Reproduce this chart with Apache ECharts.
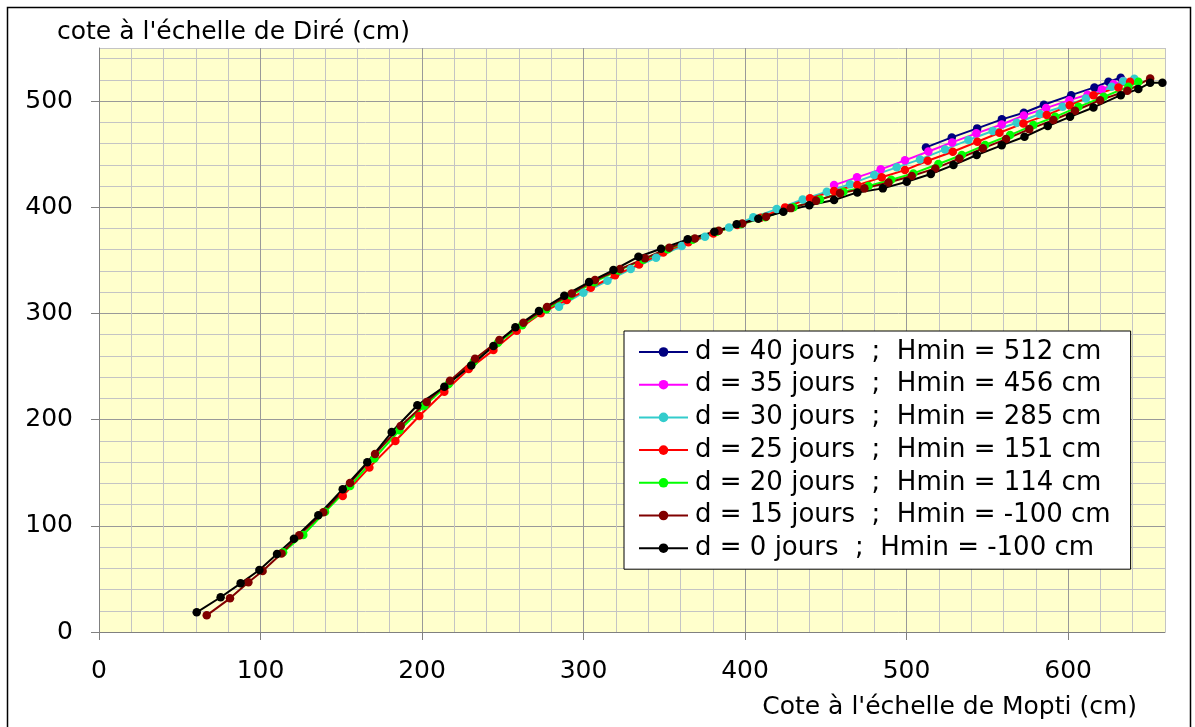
<!DOCTYPE html>
<html>
<head>
<meta charset="utf-8">
<script src="https://cdn.jsdelivr.net/npm/echarts@6/dist/echarts.min.js"></script>
<style>
  html, body { margin: 0; padding: 0; background: #ffffff; }
  #myChart { width: 1195px; height: 727px; }
</style>
</head>
<body>
<div id="myChart"></div>
<script>
// tick labels
const xTicks = [0, 100, 200, 300, 400, 500, 600];
const yTicks = [0, 100, 200, 300, 400, 500];

const seriesNames = [
  'd = 40 jours  ;  Hmin = 512 cm',
  'd = 35 jours  ;  Hmin = 456 cm',
  'd = 30 jours  ;  Hmin = 285 cm',
  'd = 25 jours  ;  Hmin = 151 cm',
  'd = 20 jours  ;  Hmin = 114 cm',
  'd = 15 jours  ;  Hmin = -100 cm',
  'd = 0 jours  ;  Hmin = -100 cm'
];
const colorList = ['#000080', '#ff00ff', '#33cccc', '#ff0000', '#00ff00', '#800000', '#000000'];

// Mopti (x) / Diré (y), cm
const mopti40 = [512, 528, 543.7, 559, 572.6, 585, 601.9, 616.3, 625, 632.6];
const dire40 = [456.4, 465.8, 474.3, 482.8, 489, 496.6, 505.6, 512.9, 518.2, 522];

const mopti35 = [455.1, 469.3, 484, 499, 513.5, 528.2, 543.2, 558.9, 572.6, 586.4, 600.8, 612, 620.9, 628.1, 634];
const dire35 = [420.9, 428.2, 435.7, 444.2, 452.5, 461.1, 469.6, 478, 486.5, 493.4, 500.9, 506, 511, 516, 519];

const mopti30 = [284.8, 299.9, 314.8, 329.2, 344.9, 360.8, 375.2, 390.1, 405.1, 419.6, 435.7, 450.6, 465, 480, 493.9, 508.3, 523.8, 538.3, 553.3, 568.2, 582.5, 596.6, 611, 627, 634.2, 641];
const dire30 = [306.3, 319.5, 330.8, 341.8, 352.4, 363.5, 372.2, 381, 390.5, 398.3, 407.4, 414.6, 421.8, 430.3, 437.6, 445.1, 454.5, 463.3, 471.8, 479.6, 487.8, 494.6, 502.5, 513.5, 518.8, 521];

const mopti25 = [150.9, 167.4, 183.5, 198.3, 213.8, 228.9, 244.2, 258.6, 273.5, 289.6, 304.5, 319.5, 334.4, 349.4, 364.9, 380.4, 395.2, 409.7, 424.8, 440.2, 455.1, 469.5, 484.6, 499, 513.1, 528.6, 543.8, 557.5, 572.3, 586.8, 601, 615.7, 631.2, 638.4];
const dire25 = [128, 155, 179.9, 203.4, 226.3, 247.6, 265.5, 283.7, 300.1, 312.6, 324.2, 335.9, 346.2, 357.5, 367, 375.4, 383.2, 390.1, 399.9, 408.4, 415.3, 420.9, 428.2, 435, 443.8, 452.3, 461.7, 470.2, 479, 486.8, 496, 505.6, 512.9, 518.2];

const mopti20 = [114, 126.5, 140, 155.5, 170.5, 186, 201.5, 216.5, 232, 247, 262, 277, 292, 306.5, 321.5, 337, 352, 367.5, 382.5, 397.5, 412.5, 430, 446.4, 460.9, 476.4, 490.5, 504.2, 519.7, 534.2, 548.6, 564.1, 578.5, 592, 606.4, 622, 637.3, 643.5];
const dire20 = [75, 91.3, 113.3, 137.5, 163.5, 190, 213, 233.5, 254.5, 272.5, 289, 304, 317, 329.5, 340.5, 350.5, 360.5, 369.5, 377, 384, 390.5, 400, 407.4, 414.6, 420, 426, 431.9, 440.7, 449.2, 458.6, 468, 477.4, 485.2, 494.6, 504, 513.5, 518.2];

const mopti15 = [66.7, 81.1, 92.5, 101.3, 113, 124, 138.9, 155.4, 170.9, 186.8, 202.9, 217.3, 232.8, 247.9, 262.8, 277.4, 292.7, 307.1, 322.6, 338, 353.1, 368.9, 383.7, 398.3, 413, 428.3, 444, 458.8, 473.9, 488.8, 503.2, 517.8, 532.7, 547.2, 561.6, 576, 590.9, 604.3, 619.8, 636.7, 650.8];
const dire15 = [15.7, 31.7, 46.8, 57.4, 74, 91, 112.7, 140.3, 167.6, 194, 216.6, 236.6, 257.3, 275, 291.2, 306, 318.9, 331.5, 341.8, 351.9, 361.9, 370.7, 377.9, 384.8, 391, 399.2, 406.1, 413.1, 417.8, 423.4, 429.4, 436.6, 446, 455.5, 464.2, 473.6, 482.1, 490.9, 500.9, 509.7, 521.3];

const mopti0 = [60.5, 75.3, 87.7, 99.3, 110.2, 120.7, 135.8, 150.9, 166.1, 181.2, 197.1, 213.8, 230.5, 244.2, 257.8, 272.4, 288.1, 303.4, 318.5, 334, 348, 364.5, 381, 394.8, 408.2, 423.7, 439.8, 455.1, 469.5, 485.3, 500.1, 515, 529, 543.4, 558.9, 573, 587.4, 601.2, 615.7, 632.6, 643.5, 650.8, 658.4];
const dire0 = [18.5, 32.7, 45.8, 58.4, 73.4, 87.9, 109.9, 134.4, 159.8, 188.3, 213.5, 231, 251.1, 269.3, 286.9, 302.3, 316.7, 329.6, 340.9, 353.4, 361, 369.8, 377, 383.9, 389.2, 395.8, 402, 406.8, 414, 417.8, 424, 431.3, 439.7, 449.2, 458.3, 466.4, 476.5, 485.2, 494, 505.6, 511.3, 517.2, 517.2];

const moptiList = [mopti40, mopti35, mopti30, mopti25, mopti20, mopti15, mopti0];
const direList = [dire40, dire35, dire30, dire25, dire20, dire15, dire0];

const font = "'DejaVu Sans', sans-serif";
const gridColors = ['#999999', '#c4c4c4', '#c4c4c4', '#c4c4c4', '#c4c4c4'];

const myChart = echarts.init(document.getElementById('myChart'));

// grid axis: every 20 cm, lines only
const gridAxis = (max) => ({
  type: 'value',
  min: 0,
  max: max,
  interval: 20,
  axisLine: { show: true, lineStyle: { color: '#808080', width: 1 } },
  axisTick: { show: false },
  axisLabel: { show: false },
  splitLine: { show: true, lineStyle: { color: gridColors, width: 1 } }
});

// label axis: ticks and labels at 100 cm
const labelAxis = (max, ticks, margin) => ({
  type: 'value',
  min: 0,
  max: max,
  interval: 100,
  axisLine: { show: false },
  axisTick: { show: true, customValues: ticks, length: 8, lineStyle: { color: '#808080' } },
  axisLabel: {
    customValues: ticks,
    margin: margin,
    fontFamily: font,
    fontSize: 25,
    color: '#000000'
  },
  splitLine: { show: false }
});

const option = {
  animation: false,
  backgroundColor: '#ffffff',
  grid: {
    left: 99,
    right: 30,
    top: 48,
    bottom: 95,
    show: true,
    backgroundColor: '#ffffcc',
    borderWidth: 0
  },
  legend: {
    orient: 'vertical',
    left: 624,
    top: 331,
    padding: [8, 20, 8, 14],
    itemGap: 6.7,
    itemWidth: 49,
    itemHeight: 12,
    backgroundColor: '#ffffff',
    borderColor: '#000000',
    borderWidth: 1,
    borderRadius: 0,
    textStyle: {
      fontFamily: font,
      fontSize: 26,
      lineHeight: 26,
      color: '#000000',
      padding: [0, 0, 0, 2]
    },
    data: seriesNames
  },
  xAxis: [
    Object.assign(gridAxis(660), { position: 'bottom' }),
    Object.assign(labelAxis(660, xTicks, 27), { position: 'bottom' })
  ],
  yAxis: [
    Object.assign(gridAxis(550), { position: 'left' }),
    Object.assign(labelAxis(550, yTicks, 26), { position: 'left' })
  ],
  graphic: [
    {
      type: 'rect',
      shape: { x: 7.5, y: 7.5, width: 1183, height: 730 },
      style: { fill: 'none', stroke: '#000000', lineWidth: 1.5 },
      silent: true
    },
    {
      type: 'text',
      x: 57,
      y: 32,
      style: {
        text: "cote à l'échelle de Diré (cm)",
        font: "25px 'DejaVu Sans', sans-serif",
        fill: '#000000',
        textAlign: 'left',
        textVerticalAlign: 'middle'
      }
    },
    {
      type: 'text',
      x: 1137,
      y: 707,
      style: {
        text: "Cote à l'échelle de Mopti (cm)",
        font: "25px 'DejaVu Sans', sans-serif",
        fill: '#000000',
        textAlign: 'right',
        textVerticalAlign: 'middle'
      }
    }
  ],
  series: seriesNames.map((name, k) => ({
    name: name,
    type: 'line',
    xAxisIndex: 0,
    yAxisIndex: 0,
    symbol: 'circle',
    symbolSize: 8.5,
    showSymbol: true,
    color: colorList[k],
    lineStyle: { width: 2, color: colorList[k] },
    itemStyle: { color: colorList[k] },
    data: moptiList[k].map((x, i) => [x, direList[k][i]])
  }))
};

option && myChart.setOption(option);
</script>
</body>
</html>
